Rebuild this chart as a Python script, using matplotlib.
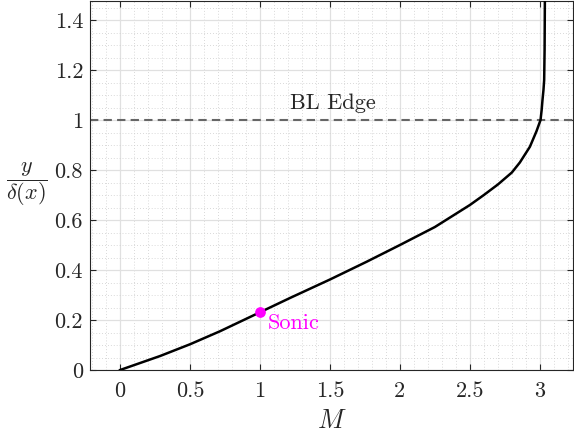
import matplotlib
matplotlib.use("Agg")
import matplotlib.pyplot as plt
from matplotlib.ticker import MultipleLocator

plt.rcParams['font.family'] = 'serif'
plt.rcParams['font.serif'] = ['cmr10']
plt.rcParams['mathtext.fontset'] = 'cm'
plt.rcParams['axes.formatter.use_mathtext'] = True

# boundary layer Mach number profile
mach = [0, 0.286, 0.5, 0.714, 1.0, 1.214, 1.357, 1.5, 1.762, 2.0, 2.25,
        2.5, 2.6, 2.7, 2.8, 2.857, 2.929, 2.976, 3.005, 3.013, 3.019,
        3.026, 3.031, 3.034, 3.036]
yDelta = [0, 0.056, 0.103, 0.155, 0.231, 0.288, 0.325, 0.362, 0.433, 0.5, 0.572,
          0.66, 0.70, 0.742, 0.79, 0.83, 0.893, 0.955, 1.0, 1.04, 1.08,
          1.12, 1.16, 1.28, 1.476]
sonicM = 1.0
sonicY = 0.231
edgeY = 1.0

xTicks = [0, 0.5, 1, 1.5, 2, 2.5, 3]
xTickLabels = ['0', '0.5', '1', '1.5', '2', '2.5', '3']
yTicks = [0, 0.2, 0.4, 0.6, 0.8, 1, 1.2, 1.4]
yTickLabels = ['0', '0.2', '0.4', '0.6', '0.8', '1', '1.2', '1.4']

dark = (0.15, 0.15, 0.15)

fig = plt.figure(figsize=(5.74, 4.37), dpi=100)
ax = fig.add_axes([0.1568, 0.1533, 0.8412, 0.8444])

ax.plot(mach, yDelta, color='black', lw=1.8, zorder=3)
ax.axhline(edgeY, color=(0.4, 0.4, 0.4), lw=1.5, dashes=(4, 2.5), zorder=2)
ax.plot([sonicM], [sonicY], 'o', color=(1, 0, 1), markersize=6.7, zorder=4)
ax.text(sonicM + 0.055, sonicY - 0.068, 'Sonic', color=(1, 0, 1), fontsize=16,
        ha='left', va='baseline')
ax.text(1.52, 1.044, 'BL Edge', color=dark, fontsize=16,
        ha='center', va='baseline')

ax.set_xlim(-0.215, 3.236)
ax.set_ylim(0, 1.476)
ax.set_xticks(xTicks)
ax.set_xticklabels(xTickLabels)
ax.set_yticks(yTicks)
ax.set_yticklabels(yTickLabels)
ax.xaxis.set_minor_locator(MultipleLocator(0.1))
ax.yaxis.set_minor_locator(MultipleLocator(0.05))

ax.grid(which='major', color=(0.88, 0.88, 0.88), lw=0.9, zorder=0)
ax.grid(which='minor', color=(0.8, 0.8, 0.8), lw=0.6, ls=(0, (1, 2.5)), zorder=0)
ax.set_axisbelow(True)

ax.tick_params(which='major', direction='in', length=4, width=0.8,
               top=True, right=True, labelsize=16, colors=dark)
ax.tick_params(axis='x', pad=8)
ax.tick_params(axis='y', pad=5)
ax.tick_params(which='minor', length=0, top=True, right=True)
for s in ax.spines.values():
    s.set_color(dark)
    s.set_linewidth(0.8)

ax.set_xlabel('$M$', fontsize=19, color=dark, labelpad=6)
fig.text(27 / 574, 1 - 184 / 437, r'$\dfrac{y}{\delta(x)}$', fontsize=16,
         ha='center', va='center', color=dark)

fig.savefig('out.png', dpi=100)
